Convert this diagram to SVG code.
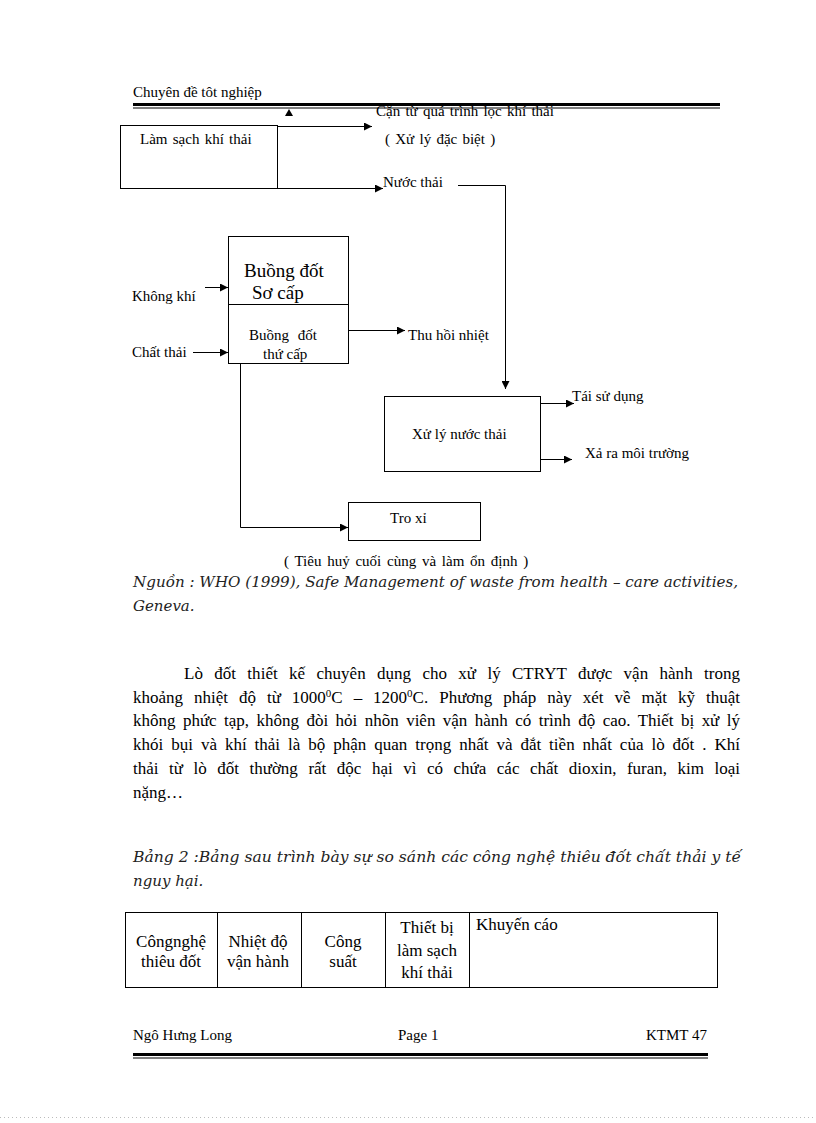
<svg xmlns="http://www.w3.org/2000/svg" width="816" height="1123" viewBox="0 0 816 1123">
<style>
.t{font-family:'Liberation Serif','Times New Roman',Times,serif;font-size:15px;fill:#000}
.b{font-family:'Liberation Serif','Times New Roman',Times,serif;font-size:17px;fill:#000}
.i{font-family:'DejaVu Serif','Liberation Serif',serif;font-style:italic;font-size:15px;fill:#222}
.box{fill:none;stroke:#000;stroke-width:1}
.ln{fill:none;stroke:#000;stroke-width:1}
</style>
<defs>
<marker id="ah" viewBox="0 0 10 10" refX="10" refY="5" markerWidth="8" markerHeight="8" markerUnits="userSpaceOnUse" orient="auto">
<path d="M0,0 L10,5 L0,10 z" fill="#000"/>
</marker>
</defs>
<rect width="816" height="1123" fill="#fff"/>

<g id="header">
<text class="t" x="133" y="97">Chuyên  đề tôt nghiệp</text>
</g>

<g id="label-can">
<text class="t" x="376" y="116" style="word-spacing:1.5px">Cặn từ quá trình  lọc  khí thải</text>
<text class="t" x="385" y="144" style="word-spacing:1.5px">( Xử lý  đặc biệt )</text>
</g>

<g id="header-rule">
<line x1="133" y1="104.5" x2="720" y2="104.5" stroke="#000" stroke-width="3"/>
<line x1="133" y1="108" x2="720" y2="108" stroke="#000" stroke-width="1"/>
</g>

<g id="node-lamsach">
<rect class="box" x="120.5" y="125.5" width="157" height="63"/>
<text class="t" x="140" y="144" style="word-spacing:1.5px">Làm  sạch khí  thải</text>
<polygon points="285,116 293,116 289,109" fill="#000"/>
</g>

<g id="node-nuocthai-label">
<text class="t" x="383" y="187">Nước thải</text>
</g>

<g id="node-buongdot">
<rect class="box" x="228.5" y="236.5" width="120" height="127"/>
<line class="ln" x1="228.5" y1="304.5" x2="348.5" y2="304.5"/>
<text class="b" x="244" y="277" style="font-size:19px">Buồng đốt</text>
<text class="b" x="252" y="299" style="font-size:19px">Sơ cấp</text>
<text class="t" x="249" y="340" style="word-spacing:5px">Buồng đốt</text>
<text class="t" x="263" y="359">thứ cấp</text>
</g>

<g id="inputs">
<text class="t" x="132" y="301">Không khí</text>
<text class="t" x="132" y="357">Chất thải</text>
</g>

<g id="label-thuhoi">
<text class="t" x="408" y="340">Thu hồi nhiệt</text>
</g>

<g id="node-xulynuoc">
<rect class="box" x="384.5" y="396.5" width="156" height="75"/>
<text class="t" x="412" y="439">Xử lý nước thải</text>
<text class="t" x="572" y="401">Tái sử dụng</text>
<text class="t" x="585" y="458">Xả ra môi trường</text>
</g>

<g id="node-troxi">
<rect class="box" x="348.5" y="502.5" width="132" height="38"/>
<text class="t" x="390" y="523">Tro xỉ</text>
</g>

<g id="connectors">
<line class="ln" x1="277.5" y1="126.5" x2="372" y2="126.5" marker-end="url(#ah)"/>
<line class="ln" x1="277.5" y1="188.5" x2="383" y2="188.5" marker-end="url(#ah)"/>
<polyline class="ln" points="458,185.5 505.5,185.5 505.5,389" marker-end="url(#ah)"/>
<line class="ln" x1="205" y1="287.5" x2="228" y2="287.5" marker-end="url(#ah)"/>
<line class="ln" x1="193" y1="352.5" x2="228" y2="352.5" marker-end="url(#ah)"/>
<line class="ln" x1="348.5" y1="330.5" x2="405" y2="330.5" marker-end="url(#ah)"/>
<polyline class="ln" points="240.5,363.5 240.5,527.5 348,527.5" marker-end="url(#ah)"/>
<line class="ln" x1="540.5" y1="403.5" x2="574" y2="403.5" marker-end="url(#ah)"/>
<line class="ln" x1="540.5" y1="459.5" x2="572" y2="459.5" marker-end="url(#ah)"/>
</g>

<g id="caption">
<text class="t" x="284" y="566" style="word-spacing:2px">( Tiêu huỷ cuối cùng và làm ổn định )</text>
<text class="i" x="133" y="587" textLength="605" lengthAdjust="spacingAndGlyphs">Nguồn : WHO (1999), Safe Management of waste from health – care activities,</text>
<text class="i" x="133" y="611">Geneva.</text>
</g>

<g id="paragraph">
<text class="b" x="184" y="679" style="word-spacing:7px" textLength="556" lengthAdjust="spacing">Lò đốt thiết kế chuyên dụng cho xử lý CTRYT được vận hành trong</text>
<text class="b" x="133" y="703" style="word-spacing:6.7px" textLength="607" lengthAdjust="spacing">khoảng nhiệt độ từ 1000<tspan font-size="11" dy="-6">0</tspan><tspan dy="6">C – 1200</tspan><tspan font-size="11" dy="-6">0</tspan><tspan dy="6">C. Phương pháp này xét về mặt kỹ thuật</tspan></text>
<text class="b" x="133" y="726" style="word-spacing:3.2px" textLength="607" lengthAdjust="spacing">không phức tạp, không đòi hỏi nhõn viên vận hành có trình độ cao. Thiết bị xử lý</text>
<text class="b" x="133" y="750" style="word-spacing:3.7px" textLength="607" lengthAdjust="spacing">khói bụi và khí thải là bộ phận quan trọng nhất và đắt tiền nhất của lò đốt . Khí</text>
<text class="b" x="133" y="774" style="word-spacing:6.3px" textLength="607" lengthAdjust="spacing">thải từ lò đốt thường rất độc hại vì có chứa các chất dioxin, furan, kim loại</text>
<text class="b" x="133" y="798">nặng…</text>
</g>

<g id="table-caption">
<text class="i" x="133" y="862" textLength="608" lengthAdjust="spacingAndGlyphs">Bảng 2 :Bảng sau trình bày sự so sánh các công nghệ thiêu đốt chất thải y tế</text>
<text class="i" x="133" y="886">nguy hại.</text>
</g>

<g id="table">
<rect class="box" x="125.5" y="912.5" width="592" height="75"/>
<line class="ln" x1="217.5" y1="912.5" x2="217.5" y2="987.5"/>
<line class="ln" x1="301.5" y1="912.5" x2="301.5" y2="987.5"/>
<line class="ln" x1="385.5" y1="912.5" x2="385.5" y2="987.5"/>
<line class="ln" x1="469.5" y1="912.5" x2="469.5" y2="987.5"/>
<text class="b" x="171" y="947" text-anchor="middle">Côngnghệ</text>
<text class="b" x="171" y="967" text-anchor="middle">thiêu đốt</text>
<text class="b" x="258" y="947" text-anchor="middle">Nhiệt độ</text>
<text class="b" x="258" y="967" text-anchor="middle">vận hành</text>
<text class="b" x="343" y="947" text-anchor="middle">Công</text>
<text class="b" x="343" y="967" text-anchor="middle">suất</text>
<text class="b" x="427" y="933" text-anchor="middle">Thiết bị</text>
<text class="b" x="427" y="956" text-anchor="middle">làm sạch</text>
<text class="b" x="427" y="978" text-anchor="middle">khí thải</text>
<text class="b" x="476" y="930">Khuyến cáo</text>
</g>

<g id="footer">
<text class="t" x="133" y="1040">Ngô Hưng Long</text>
<text class="t" x="398" y="1040">Page 1</text>
<text class="t" x="707" y="1040" text-anchor="end">KTMT 47</text>
<line x1="133" y1="1054.5" x2="708" y2="1054.5" stroke="#000" stroke-width="3"/>
<line x1="133" y1="1058" x2="708" y2="1058" stroke="#000" stroke-width="1"/>
<line x1="0" y1="1117.5" x2="816" y2="1117.5" stroke="#bbb" stroke-width="1" stroke-dasharray="1,3"/>
</g>
</svg>
